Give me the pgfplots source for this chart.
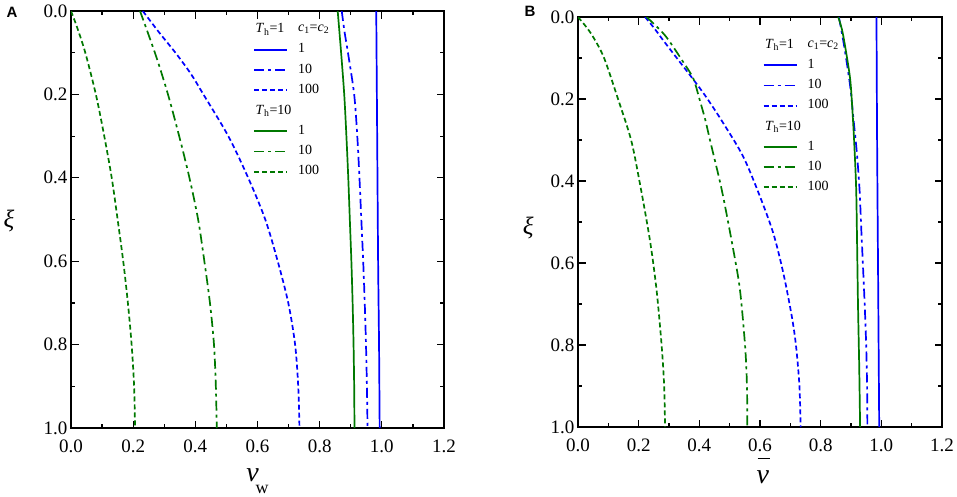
\documentclass[border=0pt]{standalone}
\usepackage{fontspec}
\setmainfont{Liberation Serif}
\newfontfamily\sansfont{Liberation Sans}
\usepackage{pgfplots}
\pgfplotsset{compat=1.18}
\definecolor{cblue}{RGB}{0,0,255}
\definecolor{cgreen}{RGB}{0,120,0}
\tikzset{dd/.style={dash pattern=on 10pt off 4pt on 3pt off 4pt},
  ds/.style={dash pattern=on 5pt off 3pt}}
\pgfplotsset{
  common/.style={
    scale only axis,
    anchor=south west,
    xmin=0, xmax=1.2, ymin=0, ymax=1,
    y dir=reverse,
    xtick={0,0.2,0.4,0.6,0.8,1.0,1.2},
    xticklabels={0.0,0.2,0.4,0.6,0.8,1.0,1.2},
    ytick={0,0.2,0.4,0.6,0.8,1.0},
    yticklabels={0.0,0.2,0.4,0.6,0.8,1.0},
    minor x tick num=1, minor y tick num=1,
    tick align=inside,
    major tick length=7.5pt, minor tick length=4pt,
    every tick/.style={black, line width=1.2pt},
    axis line style={line width=1.6pt},
    tick label style={font=\fontsize{19}{22}\selectfont},
    xticklabel style={yshift=-8pt},
    legend cell align=left,
    legend style={draw=none, fill=none, inner sep=0pt, anchor=north west,
      font=\fontsize{14}{16}\selectfont, row sep=6.6pt,
      nodes={inner sep=0pt, text height=10pt, text depth=3.5pt},
      /tikz/every odd column/.style={column sep=10pt}},
    every axis plot/.append style={line width=1.7pt, smooth},
  },
  hdr/.style={legend image code/.code={\node[anchor=base west, inner sep=0pt, font=\fontsize{14}{16}\selectfont] at (0pt,-4.5pt) {\makebox[0pt][l]{#1}};}},
  limg/.style={legend image code/.code={\draw[#1, line width=1.9pt] (0pt,0pt) -- (33pt,0pt);}},
}
\newcommand{\mylegend}{%
\addlegendimage{hdr={\textit{T}\textsubscript{h}=1}}
\addlegendentry{\textit{c}\textsubscript{1}=\textit{c}\textsubscript{2}}
\addlegendimage{limg={cblue, solid}}
\addlegendentry{1}
\addlegendimage{limg={cblue, dd}}
\addlegendentry{10}
\addlegendimage{limg={cblue, ds}}
\addlegendentry{100}
\addlegendimage{hdr={\textit{T}\textsubscript{h}=10}}
\addlegendentry{}
\addlegendimage{limg={cgreen, solid}}
\addlegendentry{1}
\addlegendimage{limg={cgreen, dd}}
\addlegendentry{10}
\addlegendimage{limg={cgreen, ds}}
\addlegendentry{100}
}
\begin{document}
\begin{tikzpicture}
\path[use as bounding box] (0pt,0pt) rectangle (957pt,-497pt);
\node[anchor=base west, inner sep=0pt, font=\sansfont\bfseries\fontsize{15}{16}\selectfont] at (6.5pt,-18pt) {A};
\node[anchor=base west, inner sep=0pt, font=\sansfont\bfseries\fontsize{15}{16}\selectfont] at (524.5pt,-17pt) {B};
% ---------------- Panel A ----------------
\begin{axis}[common,
  at={(71pt,-428pt)}, width=373pt, height=417pt,
  xlabel={\textit{v}\hspace{-3pt}\raisebox{-12pt}{\fontsize{18}{20}\selectfont w}},
  every axis x label/.style={at={(axis description cs:0.5,-0.129)}, anchor=base, font=\fontsize{28}{30}\selectfont},
  ylabel={\textit{ξ}},
  every axis y label/.style={at={(axis description cs:-0.166,0.496)}, anchor=center, font=\fontsize{25}{27}\selectfont},
  legend style={at={(axis description cs:0.488,0.975)}},
]
\mylegend
\addplot[cblue, forget plot] coordinates {(0.982,0) (0.985,0.3) (0.988,0.6) (0.991,0.8) (0.993,1.0)};
\addplot[cblue, dd, forget plot] coordinates {(0.871,0) (0.880,0.05) (0.891,0.1) (0.911,0.2) (0.921,0.3) (0.928,0.4) (0.934,0.5) (0.940,0.6) (0.945,0.7) (0.949,0.8) (0.952,0.9) (0.954,1.0)};
\addplot[cblue, ds, forget plot] coordinates {(0.231,0) (0.282,0.05) (0.336,0.1) (0.385,0.15) (0.426,0.2) (0.506,0.3) (0.570,0.4) (0.625,0.5) (0.665,0.6) (0.699,0.7) (0.721,0.8) (0.731,0.9) (0.735,1.0)};
\addplot[cgreen, forget plot] coordinates {(0.858,0) (0.869,0.1) (0.879,0.2) (0.886,0.3) (0.892,0.4) (0.897,0.5) (0.902,0.6) (0.906,0.7) (0.909,0.8) (0.911,0.9) (0.912,1.0)};
\addplot[cgreen, dd, forget plot] coordinates {(0.222,0) (0.251,0.06) (0.278,0.118) (0.312,0.2) (0.348,0.3) (0.381,0.4) (0.409,0.5) (0.429,0.6) (0.447,0.7) (0.460,0.8) (0.466,0.9) (0.469,1.0)};
\addplot[cgreen, ds, forget plot] coordinates {(0.0,0) (0.020,0.04) (0.046,0.1) (0.080,0.2) (0.107,0.3) (0.131,0.4) (0.150,0.5) (0.168,0.6) (0.183,0.7) (0.195,0.8) (0.203,0.9) (0.206,1.0)};
\end{axis}
% ---------------- Panel B ----------------
\begin{axis}[common,
  at={(578pt,-427pt)}, width=364pt, height=410pt,
  xlabel={\makebox[0pt][l]{\hspace{1pt}\raisebox{24pt}{\rule{12pt}{1.6pt}}}\textit{v}},
  every axis x label/.style={at={(axis description cs:0.508,-0.137)}, anchor=base, font=\fontsize{28}{30}\selectfont},
  ylabel={\textit{ξ}},
  every axis y label/.style={at={(axis description cs:-0.137,0.485)}, anchor=center, font=\fontsize{25}{27}\selectfont},
  legend style={at={(axis description cs:0.507,0.951)}},
]
\mylegend
\addplot[cblue, forget plot] coordinates {(0.984,0) (0.986,0.3) (0.989,0.6) (0.991,0.8) (0.993,1.0)};
\addplot[cblue, dd, forget plot] coordinates {(0.860,0) (0.877,0.069) (0.897,0.167) (0.908,0.248) (0.919,0.329) (0.928,0.419) (0.934,0.52) (0.939,0.6) (0.945,0.7) (0.950,0.8) (0.953,0.9) (0.954,1.0)};
\addplot[cblue, ds, forget plot] coordinates {(0.221,0) (0.251,0.027) (0.281,0.057) (0.336,0.110) (0.391,0.163) (0.427,0.2) (0.479,0.259) (0.545,0.341) (0.600,0.438) (0.644,0.528) (0.677,0.625) (0.705,0.731) (0.719,0.804) (0.730,0.9) (0.734,1.0)};
\addplot[cgreen, forget plot] coordinates {(0.858,0) (0.870,0.03) (0.880,0.069) (0.897,0.150) (0.905,0.232) (0.911,0.313) (0.917,0.419) (0.920,0.55) (0.923,0.7) (0.927,0.85) (0.930,1.0)};
\addplot[cgreen, dd, forget plot] coordinates {(0.226,0) (0.287,0.045) (0.347,0.110) (0.380,0.150) (0.400,0.199) (0.420,0.252) (0.435,0.3) (0.474,0.422) (0.512,0.568) (0.534,0.666) (0.551,0.804) (0.557,0.9) (0.558,1.0)};
\addplot[cgreen, ds, forget plot] coordinates {(0.0,0) (0.028,0.025) (0.051,0.05) (0.086,0.1) (0.132,0.2) (0.175,0.3) (0.204,0.406) (0.237,0.544) (0.259,0.666) (0.276,0.804) (0.284,0.9) (0.287,1.0)};
\end{axis}
\end{tikzpicture}
\end{document}
